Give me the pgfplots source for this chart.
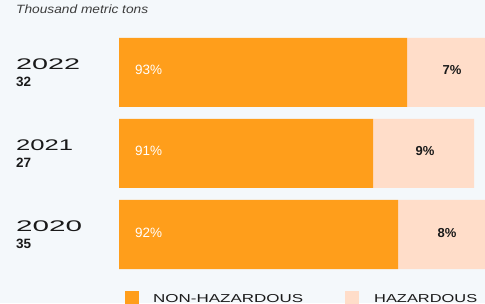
\documentclass[border=0pt]{standalone}
\usepackage{pgfplots}
\pgfplotsset{compat=1.18}
\usepackage{fontspec}
\setmainfont{Liberation Sans}
\usepackage{graphicx}
\definecolor{bg}{HTML}{F4F8FB}
\definecolor{orng}{HTML}{FF9E1B}
\definecolor{pnk}{HTML}{FFDDC9}
\definecolor{ink}{HTML}{1A1A1A}
\newcommand{\wide}[2]{\resizebox{#1}{\height}{#2}}
\newcommand{\yearfont}{\fontsize{15.4}{15.4}\selectfont}
\newcommand{\numfont}{\bfseries\fontsize{13.5}{13.5}\selectfont}
\newcommand{\legfont}{\fontsize{11.5}{11.5}\selectfont}
\begin{document}
\begin{tikzpicture}[x=1pt,y=1pt]
\useasboundingbox (0,0) rectangle (485,303);
\clip (0,0) rectangle (485,303);
\fill[bg] (0,0) rectangle (485,303);
\begin{axis}[at={(119pt,28pt)}, anchor=south west, scale only axis,
  width=366pt, height=243pt, xmin=0, xmax=366, ymin=-0.5, ymax=2.5,
  xbar stacked, bar width=69pt, axis lines=none, ticks=none]
\addplot[fill=orng, draw=none] coordinates {(288,2) (254,1) (279,0)};
\addplot[fill=pnk, draw=none] coordinates {(90,2) (101,1) (98,0)};
\end{axis}
% percentage labels
\begin{scope}[every node/.style={inner sep=0}]
\node[anchor=base west, text=white, font=\fontsize{13.5}{13.5}\selectfont] at (135,228) {93\%};
\node[anchor=base west, text=white, font=\fontsize{13.5}{13.5}\selectfont] at (135,147) {91\%};
\node[anchor=base west, text=white, font=\fontsize{13.5}{13.5}\selectfont] at (135,66) {92\%};
\node[anchor=base, text=ink, font=\bfseries\fontsize{13}{13}\selectfont] at (452,228) {7\%};
\node[anchor=base, text=ink, font=\bfseries\fontsize{13}{13}\selectfont] at (425,147) {9\%};
\node[anchor=base, text=ink, font=\bfseries\fontsize{13}{13}\selectfont] at (447,66) {8\%};
% title
\node[anchor=base west, text=ink!85, font=\itshape\fontsize{12}{12}\selectfont] at (16,289.7) {\wide{132pt}{Thousand metric tons}};
% year labels
\node[anchor=base west, text=ink, font=\yearfont] at (16,233.9) {\wide{64pt}{2022}};
\node[anchor=base west, text=ink, font=\numfont] at (16,216.3) {32};
\node[anchor=base west, text=ink, font=\yearfont] at (16,152.9) {\wide{57pt}{2021}};
\node[anchor=base west, text=ink, font=\numfont] at (16,135.3) {27};
\node[anchor=base west, text=ink, font=\yearfont] at (16,71.9) {\wide{66pt}{2020}};
\node[anchor=base west, text=ink, font=\numfont] at (16,54.3) {35};
% legend
\fill[orng] (125,-3) rectangle (139,12);
\node[anchor=base west, text=ink, font=\legfont] at (153,1) {\wide{150pt}{NON-HAZARDOUS}};
\fill[pnk] (345,-3) rectangle (359,12);
\node[anchor=base west, text=ink, font=\legfont] at (374,1) {\wide{103pt}{HAZARDOUS}};
\end{scope}
\end{tikzpicture}
\end{document}
